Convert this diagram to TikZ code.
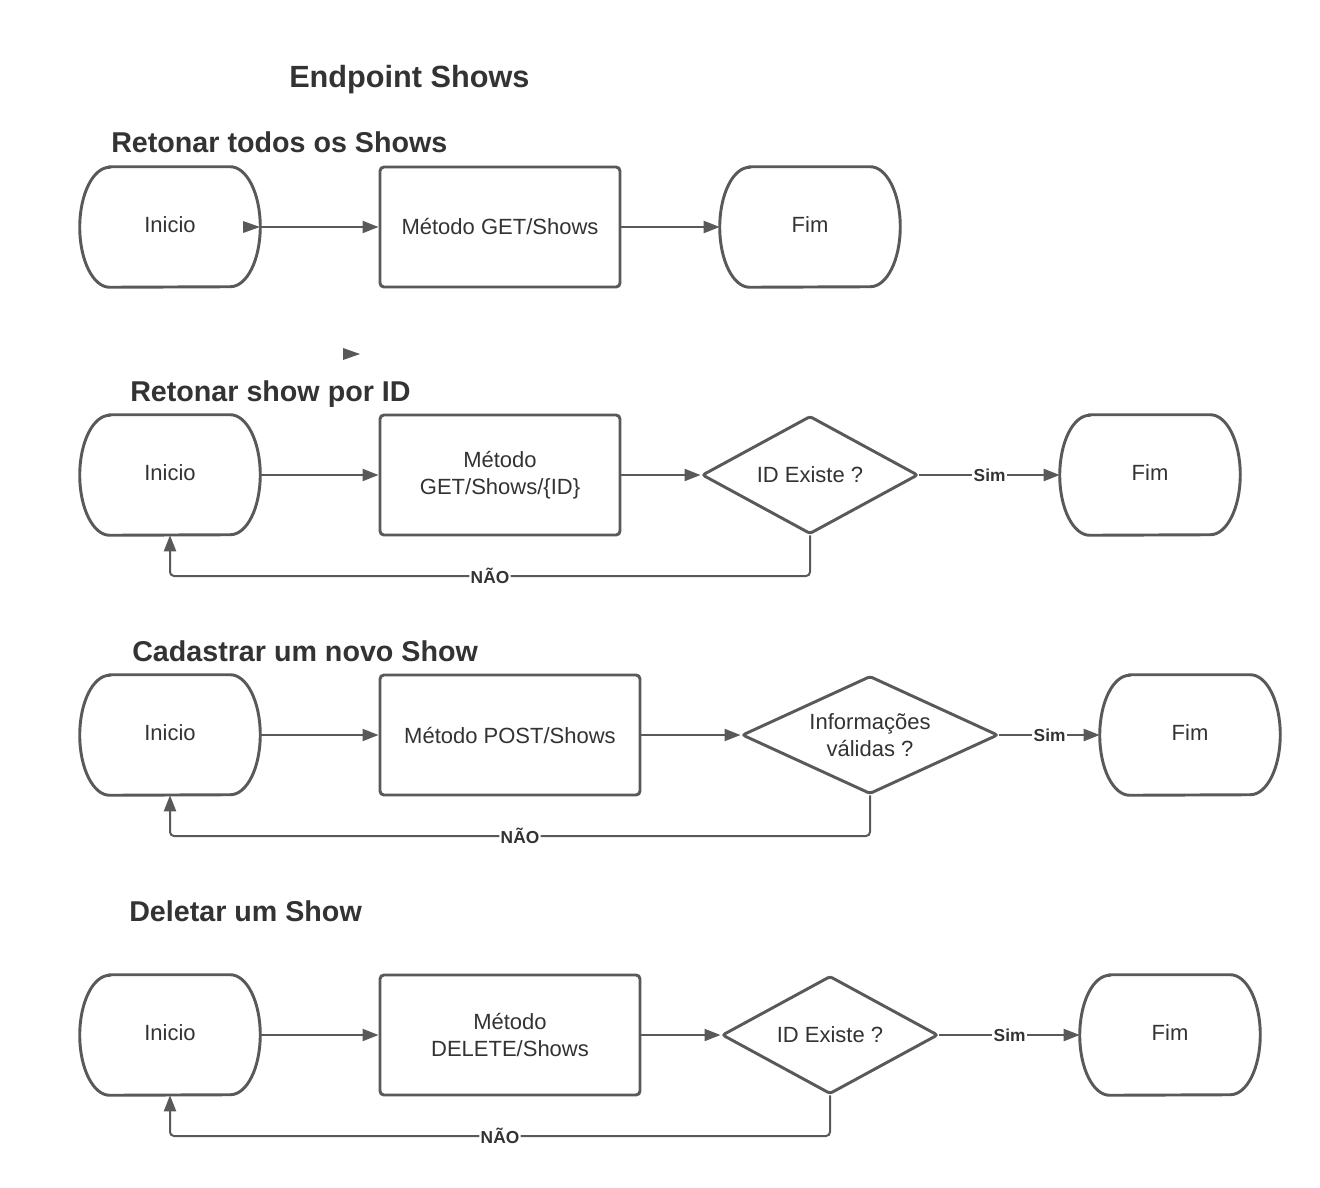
\documentclass[tikz,border=0pt]{standalone}
\usepackage{fontspec}
\setmainfont{Liberation Sans}
\usetikzlibrary{arrows.meta,shapes.geometric}
\definecolor{ln}{HTML}{595959}
\definecolor{tx}{HTML}{333333}
\tikzset{
  bodyfont/.style={font=\fontsize{16.5}{20}\selectfont, text=tx},
  term/.style={bodyfont, minimum width=135pt, minimum height=90pt, inner sep=0pt, text depth=4pt},
  termline/.style={draw=ln, line width=2.2pt},
  proc/.style={bodyfont, draw=ln, line width=2.2pt, rounded corners=3pt, minimum height=90pt, align=center, inner sep=0pt},
  dec/.style={bodyfont, draw=ln, line width=2.2pt, rounded corners=2pt, diamond, shape aspect=2, minimum height=88.5pt, inner sep=0pt, align=center},
  conn/.style={draw=ln, line width=1.5pt, -{Triangle[length=12pt,width=9pt]}},
  loop/.style={draw=ln, line width=1.5pt, rounded corners=3pt, -{Triangle[length=12pt,width=9pt]}},
  lbl/.style={font=\bfseries\fontsize{13}{15}\selectfont, text=tx, fill=white, inner sep=1pt},
  ttl/.style={text=tx, inner sep=0pt, anchor=base west},
  stray/.style={fill=ln}
}
\newcommand{\termpath}[1]{%
  \draw[termline] ([xshift=22.5pt]#1.north west) -- ([xshift=-22.5pt]#1.north east)
    arc[start angle=90,end angle=-90,x radius=22.5pt,y radius=45pt]
    -- ([xshift=22.5pt]#1.south west)
    arc[start angle=270,end angle=90,x radius=22.5pt,y radius=45pt] -- cycle;}
\begin{document}
\begin{tikzpicture}[x=0.75pt,y=-0.75pt]
\useasboundingbox (0,0) rectangle (1320,1188);
\fill[white] (0,0) rectangle (1320,1188);

% titles
\node[ttl, font=\bfseries\fontsize{23}{28}\selectfont] (t0) at (289,88) {Endpoint Shows};
\node[ttl, font=\bfseries\fontsize{21.5}{26}\selectfont] (t1) at (111,152) {Retonar todos os Shows};
\node[ttl, font=\bfseries\fontsize{21.5}{26}\selectfont] (t2) at (130,401) {Retonar show por ID};
\node[ttl, font=\bfseries\fontsize{21.5}{26}\selectfont] (t3) at (132,661) {Cadastrar um novo Show};
\node[ttl, font=\bfseries\fontsize{21.5}{26}\selectfont] (t4) at (129,921) {Deletar um Show};

% row 1
\node[term] (i1) at (170,227) {Inicio};
\node[proc, minimum width=180pt] (p1) at (500,227) {Método GET/Shows};
\node[term] (f1) at (810,227) {Fim};
\termpath{i1}\termpath{f1}
\draw[conn] (i1) -- (p1);
\draw[conn] (p1) -- (f1);
\fill[stray] (243,221) -- (260,227) -- (243,233) -- cycle;
\fill[stray] (343,348) -- (360,354) -- (343,360) -- cycle;

% row 2
\node[term] (i2) at (170,475) {Inicio};
\node[proc, minimum width=180pt] (p2) at (500,475) {Método\\GET/Shows/\{ID\}};
\node[dec, minimum width=162pt] (d2) at (810,475) {ID Existe ?};
\node[term] (f2) at (1150,475) {Fim};
\termpath{i2}\termpath{f2}
\draw[conn] (i2) -- (p2);
\draw[conn] (p2) -- (d2);
\draw[conn] (d2) -- node[lbl] {Sim} (f2);
\coordinate (n2) at (0,576);
\draw[loop] (d2.south) -- (d2.south |- n2) -- node[lbl] {NÃO} (i2.south |- n2) -- (i2.south);

% row 3
\node[term] (i3) at (170,735) {Inicio};
\node[proc, minimum width=195pt] (p3) at (510,735) {Método POST/Shows};
\node[dec, minimum width=192pt] (d3) at (870,735) {Informações\\válidas ?};
\node[term] (f3) at (1190,735) {Fim};
\termpath{i3}\termpath{f3}
\draw[conn] (i3) -- (p3);
\draw[conn] (p3) -- (d3);
\draw[conn] (d3) -- node[lbl] {Sim} (f3);
\coordinate (n3) at (0,836);
\draw[loop] (d3.south) -- (d3.south |- n3) -- node[lbl] {NÃO} (i3.south |- n3) -- (i3.south);

% row 4
\node[term] (i4) at (170,1035) {Inicio};
\node[proc, minimum width=195pt] (p4) at (510,1035) {Método\\DELETE/Shows};
\node[dec, minimum width=162pt] (d4) at (830,1035) {ID Existe ?};
\node[term] (f4) at (1170,1035) {Fim};
\termpath{i4}\termpath{f4}
\draw[conn] (i4) -- (p4);
\draw[conn] (p4) -- (d4);
\draw[conn] (d4) -- node[lbl] {Sim} (f4);
\coordinate (n4) at (0,1136);
\draw[loop] (d4.south) -- (d4.south |- n4) -- node[lbl] {NÃO} (i4.south |- n4) -- (i4.south);
\end{tikzpicture}
\end{document}
